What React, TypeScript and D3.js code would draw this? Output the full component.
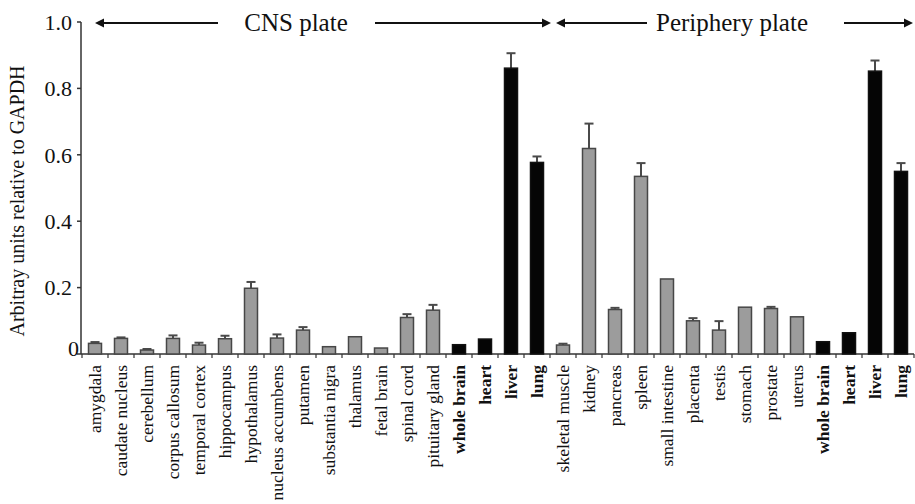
import React from "react";
import * as d3 from "d3";

const categories = [
  "amygdala", "caudate nucleus", "cerebellum", "corpus callosum", "temporal cortex",
  "hippocampus", "hypothalamus", "nucleus accumbens", "putamen", "substantia nigra",
  "thalamus", "fetal brain", "spinal cord", "pituitary gland", "whole brain", "heart",
  "liver", "lung",
  "skeletal muscle", "kidney", "pancreas", "spleen", "small intestine", "placenta",
  "testis", "stomach", "prostate", "uterus", "whole brain", "heart", "liver", "lung",
];
const values = [
  0.032, 0.047, 0.012, 0.047, 0.027, 0.046, 0.198, 0.048, 0.072, 0.022, 0.052, 0.018,
  0.110, 0.132, 0.028, 0.045, 0.861, 0.577,
  0.027, 0.619, 0.134, 0.535, 0.226, 0.100, 0.072, 0.141, 0.137, 0.112, 0.037, 0.064,
  0.852, 0.550,
];
const errors = [
  0.004, 0.003, 0.003, 0.009, 0.007, 0.009, 0.019, 0.011, 0.009, 0.001, 0.001, 0.001,
  0.010, 0.016, 0, 0, 0.045, 0.018,
  0.004, 0.075, 0.005, 0.040, 0.001, 0.008, 0.027, 0.001, 0.005, 0.001, 0, 0,
  0.032, 0.025,
];
const controls = [
  false, false, false, false, false, false, false, false, false, false, false, false,
  false, false, true, true, true, true,
  false, false, false, false, false, false, false, false, false, false, true, true,
  true, true,
];
const yTicks = [0, 0.2, 0.4, 0.6, 0.8, 1.0];
const yTickLabels = ["0", "0.2", "0.4", "0.6", "0.8", "1.0"];
const plates = [
  { label: "CNS plate", from: 0, to: 18 },
  { label: "Periphery plate", from: 18, to: 32 },
];
const yTitle = "Arbitray units relative to GAPDH";

const W = 915;
const H = 504;
const FONT = "'Liberation Serif', 'Times New Roman', serif";

export default function App() {
  const idx = categories.map((_, i) => String(i));
  const x = d3.scaleBand<string>().domain(idx).range([82, 914]).paddingInner(0).paddingOuter(0);
  const y = d3.scaleLinear().domain([0, 1]).range([354, 22]);
  const bw = x.bandwidth();
  const barW = bw * 0.5;
  const x0 = 81;

  const arrowY = 23;
  const head = (tipX: number, dir: number) => {
    const p = d3.path();
    p.moveTo(tipX, arrowY);
    p.lineTo(tipX - dir * 9, arrowY - 4.5);
    p.lineTo(tipX - dir * 9, arrowY + 4.5);
    p.closePath();
    return p.toString();
  };

  const plateGeom = [
    { lt: x(String(plates[0].from))! + 13, le: 218, tc: 296, rs: 375, rt: x(String(plates[0].to - 1))! + bw + 1 },
    { lt: x(String(plates[1].from))! + 6, le: 647, tc: 732, rs: 844, rt: 913 },
  ];

  return (
    <div style={{ position: "absolute", left: 0, top: 0 }}>
      <svg width={W} height={H} style={{ display: "block", background: "#fff" }}>
        {plates.map((p, i) => {
          const g = plateGeom[i];
          return (
            <g key={p.label}>
              <line x1={g.lt + 6} x2={g.le} y1={arrowY} y2={arrowY} stroke="#111" strokeWidth={2} />
              <path d={head(g.lt, -1)} fill="#111" />
              <text x={g.tc} y={arrowY + 8} textAnchor="middle" fontFamily={FONT} fontSize={25} fill="#111">
                {p.label}
              </text>
              <line x1={g.rs} x2={g.rt - 6} y1={arrowY} y2={arrowY} stroke="#111" strokeWidth={2} />
              <path d={head(g.rt, 1)} fill="#111" />
            </g>
          );
        })}

        <line x1={x0} x2={x0} y1={y(1)} y2={y(0)} stroke="#333" strokeWidth={1.5} />
        {yTicks.map((t, i) => (
          <g key={t}>
            <line x1={x0 - 4} x2={x0} y1={y(t)} y2={y(t)} stroke="#333" strokeWidth={1.5} />
            <text
              x={t === 0 ? x0 - 2 : x0 - 9}
              y={t === 0 ? y(t) - 6 : y(t)}
              dy="0.35em"
              textAnchor="end"
              fontFamily={FONT}
              fontSize={22}
              fill="#111"
            >
              {yTickLabels[i]}
            </text>
          </g>
        ))}
        <text
          transform={`translate(24, 201) rotate(-90)`}
          textAnchor="middle"
          fontFamily={FONT}
          fontSize={20}
          fill="#111"
        >
          {yTitle}
        </text>

        <line x1={x0} x2={914} y1={y(0)} y2={y(0)} stroke="#333" strokeWidth={1.5} />
        {d3.range(categories.length + 1).map((i) => {
          const tx = 82 + i * bw;
          return <line key={i} x1={tx} x2={tx} y1={y(0)} y2={y(0) + 4} stroke="#333" strokeWidth={1.2} />;
        })}

        {values.map((v, i) => {
          const cx = x(String(i))! + bw / 2;
          const ctl = controls[i];
          const top = y(v);
          const eTop = y(v + errors[i]);
          return (
            <g key={i}>
              {errors[i] > 0.0015 && (
                <g stroke="#4a4a4a" strokeWidth={2}>
                  <line x1={cx} x2={cx} y1={top} y2={eTop} />
                  <line x1={cx - 4.5} x2={cx + 4.5} y1={eTop} y2={eTop} />
                </g>
              )}
              <rect
                x={cx - barW / 2}
                y={top}
                width={barW}
                height={y(0) - top}
                fill={ctl ? "#050505" : "#9c9c9c"}
                stroke={ctl ? "#111" : "#474747"}
                strokeWidth={1.5}
              />
            </g>
          );
        })}

        {categories.map((c, i) => {
          const cx = x(String(i))! + bw / 2;
          return (
            <text
              key={i}
              transform={`translate(${cx + 6}, 365) rotate(-90)`}
              textAnchor="end"
              fontFamily={FONT}
              fontSize={17.5}
              fontWeight={controls[i] ? "bold" : "normal"}
              fill="#111"
            >
              {c}
            </text>
          );
        })}
      </svg>
    </div>
  );
}
